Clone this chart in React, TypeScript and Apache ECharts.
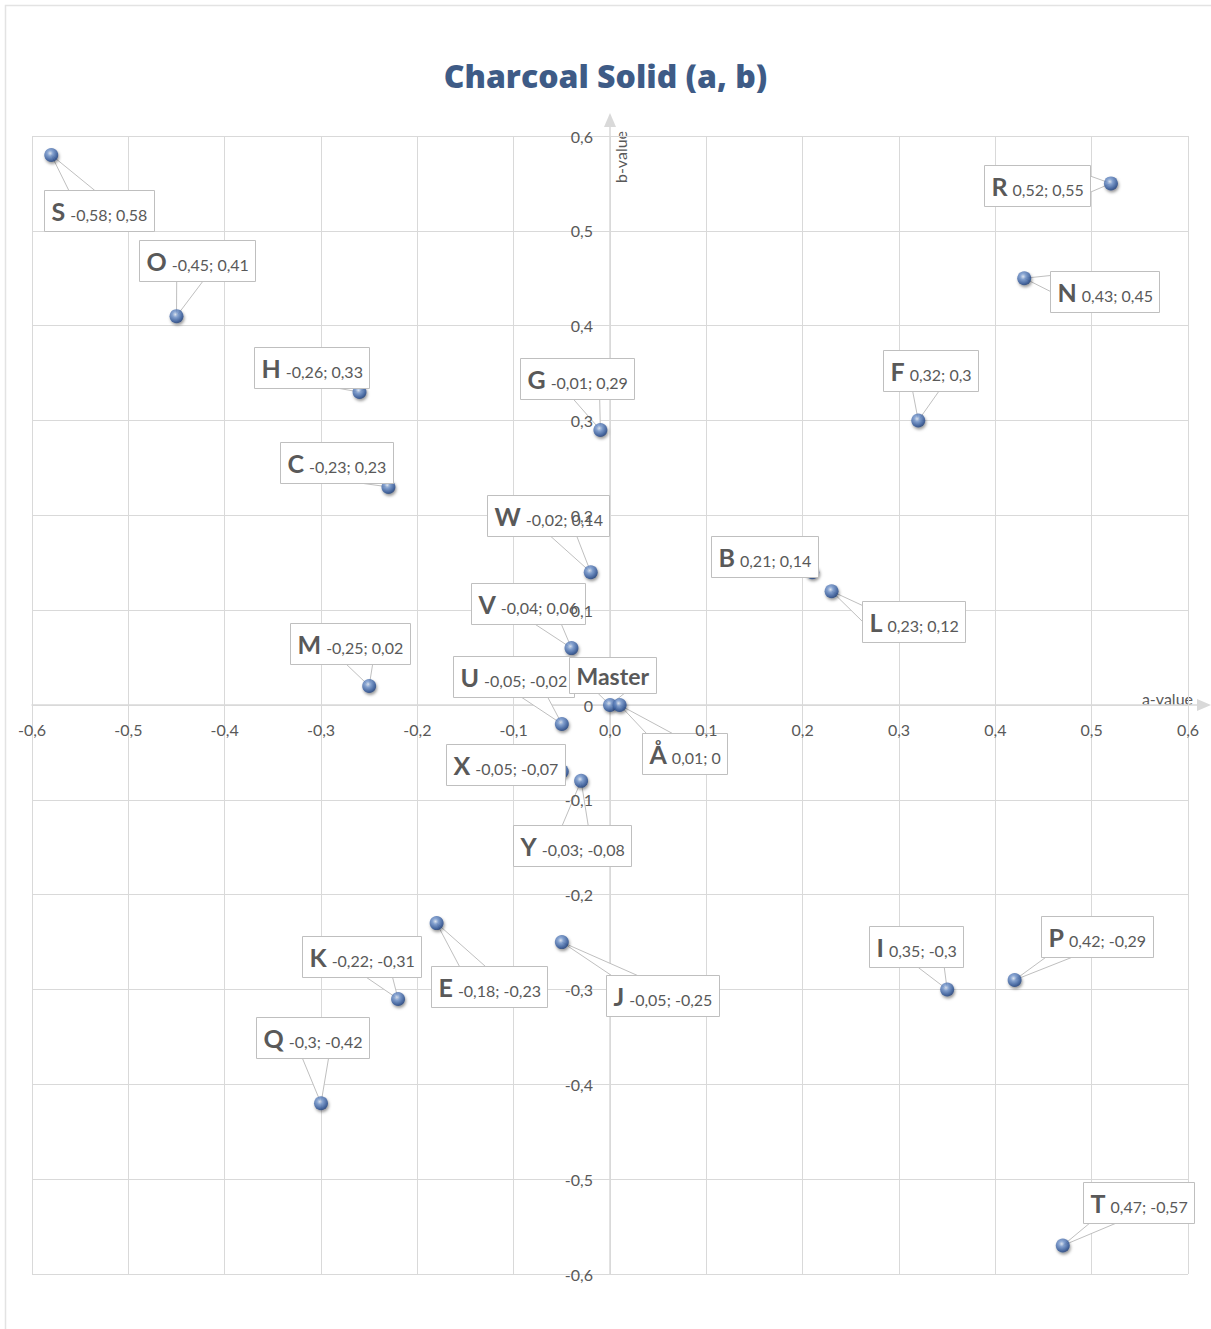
import React, { useEffect, useRef } from 'react';
import * as echarts from 'echarts';

// Samples plotted on the a/b colour plane
const pointNames = ['S', 'O', 'H', 'C', 'G', 'W', 'V', 'M', 'U', 'Master', 'Å', 'X', 'Y', 'K', 'E', 'J', 'Q', 'B', 'L', 'F', 'R', 'N', 'I', 'P', 'T'];
const aValues = [-0.58, -0.45, -0.26, -0.23, -0.01, -0.02, -0.04, -0.25, -0.05, 0, 0.01, -0.05, -0.03, -0.22, -0.18, -0.05, -0.3, 0.21, 0.23, 0.32, 0.52, 0.43, 0.35, 0.42, 0.47];
const bValues = [0.58, 0.41, 0.33, 0.23, 0.29, 0.14, 0.06, 0.02, -0.02, 0, 0, -0.07, -0.08, -0.31, -0.23, -0.25, -0.42, 0.14, 0.12, 0.3, 0.55, 0.45, -0.3, -0.29, -0.57];
// Points whose callout shows the name only
const nameOnlyPoints = ['Master'];

const xTickLabels = ['-0,6', '-0,5', '-0,4', '-0,3', '-0,2', '-0,1', '0,0', '0,1', '0,2', '0,3', '0,4', '0,5', '0,6'];
const yTickLabels = ['-0,6', '-0,5', '-0,4', '-0,3', '-0,2', '-0,1', '0', '0,1', '0,2', '0,3', '0,4', '0,5', '0,6'];

// Callout box centre relative to its point, in pixels (same order as pointNames)
const calloutOffsets: [number, number][] = [
  [48, 56], [20, -56], [-48, -25], [-52, -24], [-23, -51], [-43, -57], [-43, -45], [-19, -43],
  [-48, -47], [2, -30], [65, 48], [-56, -7], [-9, 65], [-37, -42], [52, 63], [101, 53],
  [-9, -66], [-48, -16], [82, 30], [12, -50], [-74, 2], [80, 13], [-31, -43], [82, -44], [76, -43],
];

const WIDTH = 1211;
const HEIGHT = 1329;
const PLOT = { left: 32, top: 136, right: 1188, bottom: 1274 };
const AXIS_MIN = -0.6;
const AXIS_MAX = 0.6;
const STEP = 0.1;
const ARROW_EXT = 16;

const FONT = 'Lato, "Open Sans", sans-serif';
const TEXT_COLOR = '#595959';
const GRID_COLOR = '#d9d9d9';
const BOX_BORDER = '#bfbfbf';
const LETTER_SIZE = 25;
const NAME_ONLY_SIZE = 23;
const VALUE_SIZE = 16;
const BOX_H = 41;
const PAD_X = 7;
const GAP = 5;
const WEDGE_HALF = 13;
const WEDGE_HALF_V = 8;

const formatNumber = (v: number) => String(v).replace('.', ',');
const isNameOnly = (i: number) => nameOnlyPoints.includes(pointNames[i]);
const valueText = (i: number) => (isNameOnly(i) ? '' : `${formatNumber(aValues[i])}; ${formatNumber(bValues[i])}`);

let measureCtx: CanvasRenderingContext2D | null = null;
function textWidth(text: string, size: number, weight: string) {
  if (!measureCtx) measureCtx = document.createElement('canvas').getContext('2d');
  measureCtx!.font = `${weight} ${size}px ${FONT}`;
  return measureCtx!.measureText(text).width;
}

function calloutBox(api: any, i: number) {
  const p = api.coord([api.value(0), api.value(1)]);
  const [dx, dy] = calloutOffsets[i];
  const cx = p[0] + dx;
  const cy = p[1] + dy;
  const nameSize = isNameOnly(i) ? NAME_ONLY_SIZE : LETTER_SIZE;
  const letterW = textWidth(pointNames[i], nameSize, 'bold');
  const vt = valueText(i);
  const valueW = vt ? textWidth(vt, VALUE_SIZE, 'normal') : 0;
  const w = Math.round(letterW + (vt ? GAP + valueW : 0) + 2 * PAD_X);
  const h = isNameOnly(i) ? BOX_H - 5 : BOX_H;
  const left = Math.round(cx - w / 2) + 0.5;
  const top = Math.round(cy - h / 2) + 0.5;
  return { p, cx: left + w / 2, cy: top + h / 2, left, top, w, h, letterW, vt, nameSize };
}

function renderWedge(params: any, api: any) {
  const i = params.dataIndex;
  const b = calloutBox(api, i);
  const vx = b.p[0] - b.cx;
  const vy = b.p[1] - b.cy;
  const hw = b.w / 2;
  const hh = b.h / 2;
  const tx = vx ? hw / Math.abs(vx) : Infinity;
  const ty = vy ? hh / Math.abs(vy) : Infinity;
  const t = Math.min(tx, ty);
  if (t >= 1) return null;
  const ex = b.cx + vx * t;
  const ey = b.cy + vy * t;
  let points: number[][];
  if (ty <= tx) {
    const lo = b.left + 4;
    const hi = b.left + b.w - 4;
    const half = Math.min(WEDGE_HALF, (hi - lo) / 2);
    const x0 = Math.max(lo, Math.min(hi - 2 * half, ex - half));
    points = [b.p, [x0, ey], [x0 + 2 * half, ey]];
  } else {
    const lo = b.top + 4;
    const hi = b.top + b.h - 4;
    const half = Math.min(WEDGE_HALF_V, (hi - lo) / 2);
    const y0 = Math.max(lo, Math.min(hi - 2 * half, ey - half));
    points = [b.p, [ex, y0], [ex, y0 + 2 * half]];
  }
  return {
    type: 'polygon',
    shape: { points },
    style: { fill: '#ffffff', stroke: BOX_BORDER, lineWidth: 1 },
  };
}

function renderBox(params: any, api: any) {
  const i = params.dataIndex;
  const b = calloutBox(api, i);
  const children: any[] = [
    {
      type: 'rect',
      shape: { x: b.left, y: b.top, width: b.w, height: b.h },
      style: { fill: '#ffffff', stroke: BOX_BORDER, lineWidth: 1 },
    },
    {
      type: 'text',
      x: b.left + PAD_X,
      y: b.cy,
      style: {
        text: pointNames[i],
        fontFamily: FONT,
        fontWeight: 'bold',
        fontSize: b.nameSize,
        fill: TEXT_COLOR,
        align: 'left',
        verticalAlign: 'middle',
      },
    },
  ];
  if (b.vt) {
    children.push({
      type: 'text',
      x: b.left + PAD_X + b.letterW + GAP,
      y: b.cy + 3,
      style: {
        text: b.vt,
        fontFamily: FONT,
        fontSize: VALUE_SIZE,
        fill: TEXT_COLOR,
        align: 'left',
        verticalAlign: 'middle',
      },
    });
  }
  return { type: 'group', children };
}

function buildOption() {
  const plotW = PLOT.right - PLOT.left;
  const plotH = PLOT.bottom - PLOT.top;
  const xPerPx = (AXIS_MAX - AXIS_MIN) / plotW;
  const yPerPx = (AXIS_MAX - AXIS_MIN) / plotH;
  // Pixel position of the zero crossing inside the plot area
  const zeroX = PLOT.left + (0 - AXIS_MIN) / xPerPx;
  const zeroY = PLOT.top + (AXIS_MAX - 0) / yPerPx;
  const points = aValues.map((a, i) => [a, bValues[i]]);

  const hiddenParts = {
    axisTick: { show: false },
    axisLabel: { show: false },
    splitLine: { show: false },
    axisLine: { show: false, onZero: false },
  };
  const labelStyle = { color: TEXT_COLOR, fontFamily: FONT, fontSize: 16 };
  const arrowLine = {
    show: true,
    onZero: true,
    symbol: ['none', 'triangle'],
    symbolSize: [12, 14],
    lineStyle: { color: GRID_COLOR, width: 1.5 },
  };
  const gridBase = { containLabel: false, outerBoundsMode: 'none' };
  const fullRange = { type: 'value', min: AXIS_MIN, max: AXIS_MAX, interval: STEP };
  const halfRange = { type: 'value', min: 0, max: AXIS_MAX };

  return {
    animation: false,
    backgroundColor: '#ffffff',
    title: {
      text: 'Charcoal Solid (a, b)',
      left: 'center',
      top: 54,
      textStyle: { fontFamily: '"Open Sans", Lato, sans-serif', fontWeight: 800, fontSize: 32, color: '#3e5b86' },
    },
    grid: [
      // 0: plot area with gridlines and data
      { ...gridBase, left: PLOT.left, top: PLOT.top, width: plotW, height: plotH },
      // 1: axis lines with arrow heads reaching past the plot area
      { ...gridBase, left: PLOT.left, top: PLOT.top - ARROW_EXT, width: plotW + ARROW_EXT, height: plotH + ARROW_EXT },
      // 2: upper half, whose bottom edge is the a axis (x tick labels)
      { ...gridBase, left: PLOT.left, top: PLOT.top, width: plotW, height: zeroY - PLOT.top },
      // 3: right half, whose left edge is the b axis (y tick labels)
      { ...gridBase, left: zeroX, top: PLOT.top, width: PLOT.right - zeroX, height: plotH },
    ],
    xAxis: [
      {
        gridIndex: 0, ...fullRange, z: 0,
        ...hiddenParts,
        splitLine: { show: true, lineStyle: { color: GRID_COLOR, width: 1 } },
      },
      {
        gridIndex: 1, type: 'value', min: AXIS_MIN, max: AXIS_MAX + ARROW_EXT * xPerPx, z: 0,
        ...hiddenParts,
        axisLine: arrowLine,
      },
      {
        gridIndex: 2, ...fullRange, z: 10, position: 'bottom',
        ...hiddenParts,
        axisLabel: { show: true, margin: 16, ...labelStyle, formatter: (_v: number, idx: number) => xTickLabels[idx] ?? '' },
      },
      { gridIndex: 3, ...halfRange, z: 0, ...hiddenParts },
    ],
    yAxis: [
      {
        gridIndex: 0, ...fullRange, z: 0,
        ...hiddenParts,
        splitLine: { show: true, lineStyle: { color: GRID_COLOR, width: 1 } },
      },
      {
        gridIndex: 1, type: 'value', min: AXIS_MIN, max: AXIS_MAX + ARROW_EXT * yPerPx, z: 0,
        ...hiddenParts,
        axisLine: arrowLine,
      },
      { gridIndex: 2, ...halfRange, z: 0, ...hiddenParts },
      {
        gridIndex: 3, ...fullRange, z: 10, position: 'left',
        ...hiddenParts,
        axisLabel: { show: true, margin: 17, ...labelStyle, formatter: (_v: number, idx: number) => yTickLabels[idx] ?? '' },
      },
    ],
    graphic: [
      {
        type: 'rect', z: -10, silent: true,
        shape: { x: 5.5, y: 5.5, width: WIDTH + 20, height: HEIGHT + 20 },
        style: { fill: 'none', stroke: '#e3e3e3', lineWidth: 1.5 },
      },
      {
        type: 'text', x: PLOT.right + 5, y: zeroY - 7, silent: true,
        style: { text: 'a-value', align: 'right', verticalAlign: 'middle', fontFamily: FONT, fontSize: 16, fill: TEXT_COLOR },
      },
      {
        type: 'text', x: zeroX + 10, y: PLOT.top + 21, rotation: Math.PI / 2, silent: true,
        style: { text: 'b-value', align: 'center', verticalAlign: 'middle', fontFamily: FONT, fontSize: 16, fill: TEXT_COLOR },
      },
    ],
    series: [
      {
        type: 'custom', name: 'pointers', xAxisIndex: 0, yAxisIndex: 0, z: 2, silent: true,
        data: points, renderItem: renderWedge,
      },
      {
        type: 'scatter', name: 'samples', xAxisIndex: 0, yAxisIndex: 0, z: 3, silent: true,
        data: points,
        symbol: 'circle',
        symbolSize: 14,
        itemStyle: {
          color: new echarts.graphic.RadialGradient(0.42, 0.38, 0.68, [
            { offset: 0, color: '#dfe8f6' },
            { offset: 0.3, color: '#7598cf' },
            { offset: 0.75, color: '#2f5597' },
            { offset: 1, color: '#1a3566' },
          ]),
          shadowBlur: 3,
          shadowOffsetX: 1,
          shadowOffsetY: 2,
          shadowColor: 'rgba(0,0,0,0.5)',
        },
      },
      {
        type: 'custom', name: 'callouts', xAxisIndex: 0, yAxisIndex: 0, z: 4, silent: true,
        data: points, renderItem: renderBox,
      },
    ],
  };
}

export default function App() {
  const ref = useRef<HTMLDivElement>(null);
  useEffect(() => {
    if (!ref.current) return;
    const chart = echarts.init(ref.current, null, { renderer: 'svg', width: WIDTH, height: HEIGHT });
    chart.setOption(buildOption() as any);
    return () => chart.dispose();
  }, []);
  return (
    <div
      ref={ref}
      style={{ position: 'absolute', left: 0, top: 0, width: WIDTH, height: HEIGHT, background: '#ffffff' }}
    />
  );
}
